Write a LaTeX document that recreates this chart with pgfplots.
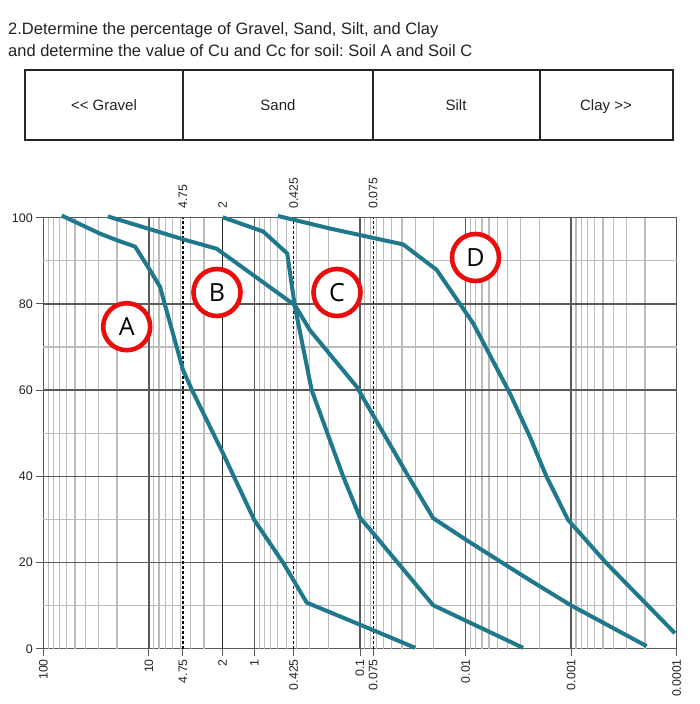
\documentclass[border=0pt]{standalone}
\usepackage{fontspec}
\setmainfont{Liberation Sans}
\newfontfamily\circfont{Open Sans}
\usepackage{pgfplots}
\pgfplotsset{compat=1.18}
\frenchspacing
\definecolor{curve}{RGB}{31,120,140}
\definecolor{gmaj}{RGB}{90,90,90}
\definecolor{gmin}{RGB}{188,188,188}
\definecolor{circred}{RGB}{235,12,12}
\definecolor{txt}{RGB}{34,34,34}
\begin{document}
\begin{tikzpicture}
\useasboundingbox (0pt,-704pt) rectangle (699pt,0pt);
\begin{axis}[
  at={(43.3pt,-648.7pt)}, anchor=south west,
  scale only axis, width=633.4pt, height=431pt,
  xmode=log, x dir=reverse, xmin=0.0001, xmax=100, ymin=0, ymax=100,
  clip=false,
  axis line style={gmaj, line width=1.3pt},
  xtick={100,10,4.75,2,1,0.425,0.1,0.075,0.01,0.001,0.0001},
  xticklabels={100,10,4.75\hspace{4pt},2,1,0.425,0.1,0.075\hspace{4pt},0.01,0.001,0.0001},
  minor xtick={}, minor ytick={},
  xtick pos=bottom, ytick pos=left,
  xticklabel style={rotate=90, anchor=east, font=\fontsize{12.3}{14}\selectfont, text=txt},
  ytick={0,20,40,60,80,100},
  yticklabel style={font=\fontsize{12.5}{14}\selectfont, text=txt},
  tick align=outside, major tick length=7pt, tick style={gmaj, line width=1pt},
  /pgf/number format/assume math mode=true,
]
% minor vertical grid
\pgfplotsinvokeforeach{90,80,70,60,50,40,30,20,9,8,7,6,5,4,3,0.9,0.8,0.7,0.6,0.5,0.4,0.3,0.2,0.09,0.08,0.07,0.06,0.05,0.04,0.03,0.02,0.009,0.008,0.007,0.006,0.005,0.004,0.003,0.002,0.0009,0.0008,0.0007,0.0006,0.0005,0.0004,0.0003,0.0002}{
  \draw[gmin, line width=1.2pt] (axis cs:#1,0) -- (axis cs:#1,100);}
% minor horizontal grid
\pgfplotsinvokeforeach{10,30,50,70,90}{
  \draw[gmin, line width=1.2pt] (axis cs:100,#1) -- (axis cs:0.0001,#1);}
% major grid
\pgfplotsinvokeforeach{20,40,60,80,100}{
  \draw[gmaj, line width=1.3pt] (axis cs:100,#1) -- (axis cs:0.0001,#1);}
\pgfplotsinvokeforeach{10,1,0.1,0.01,0.001}{
  \draw[gmaj, line width=1.3pt] (axis cs:#1,0) -- (axis cs:#1,100);}
\draw[black!85, line width=1.6pt] (axis cs:2,0) -- (axis cs:2,100);
% dashed sieve lines
\pgfplotsinvokeforeach{4.75,0.425,0.075}{
  \draw[black, line width=1.3pt, dash pattern=on 3pt off 2pt] (axis cs:#1,0) -- (axis cs:#1,100);}
% top labels
\pgfplotsinvokeforeach{4.75,2,0.425,0.075}{
  \node[rotate=90, anchor=west, font=\fontsize{12.3}{14}\selectfont, text=txt, inner sep=0pt] at ([yshift=9pt]axis cs:#1,100) {#1};}
% curves
\addplot[curve, line width=4pt, line join=round] coordinates {
(67,100.5) (29,96.3) (20.2,94.8) (13.5,93.3) (9.8,87.9) (7.85,84) (4.75,64.7) (3.9,60)
(2.0,45.5) (1.0,29.8) (0.53,19.8) (0.32,10.7) (0.075,4.3) (0.030,0.2)};
\addplot[curve, line width=4pt, line join=round] coordinates {
(24.5,100.3) (7.3,96.4) (4.75,95) (2.28,92.8) (0.414,79.7) (0.298,73.9) (0.1076,60.8)
(0.0362,40.7) (0.0203,30.3) (0.0098,25.2) (0.0044,19.8) (0.00246,15.9) (0.00101,10.1) (0.000193,0.6)};
\addplot[curve, line width=4pt, line join=round] coordinates {
(2.0,100.1) (0.826,96.8) (0.489,91.7) (0.414,79.4) (0.287,60) (0.144,39.9) (0.1,30.4)
(0.075,26.8) (0.0203,10.1) (0.00285,0.2)};
\addplot[curve, line width=4pt, line join=round] coordinates {
(0.6,100.4) (0.193,97.5) (0.039,93.8) (0.0188,87.9) (0.00847,75.5) (0.00381,59.3)
(0.00246,49.2) (0.00171,39.9) (0.00107,29.9) (0.000462,19.8) (0.000104,3.6)};
\end{axis}
\begin{scope}[x=1pt,y=-1pt]
% title
\node[anchor=base west, inner sep=0pt, font=\fontsize{16.5}{19}\selectfont, text=txt] at (8,34) {2.Determine the percentage of Gravel, Sand, Silt, and Clay};
\node[anchor=base west, inner sep=0pt, font=\fontsize{16.5}{19}\selectfont, text=txt] at (8,56) {and determine the value of Cu and Cc for soil: Soil A and Soil C};
% classification box
\draw[black!85, line width=1.6pt] (25,70) rectangle (673,140);
\draw[black!85, line width=1.4pt] (183,70) -- (183,140) (373,70) -- (373,140) (540,70) -- (540,140);
\node[anchor=base, inner sep=0pt, font=\fontsize{15}{17}\selectfont, text=txt] at (104,110) {<\kern0pt< Gravel};
\node[anchor=base, inner sep=0pt, font=\fontsize{15}{17}\selectfont, text=txt] at (278,110) {Sand};
\node[anchor=base, inner sep=0pt, font=\fontsize{15}{17}\selectfont, text=txt] at (456,110) {Silt};
\node[anchor=base, inner sep=0pt, font=\fontsize{15}{17}\selectfont, text=txt] at (606,110) {Clay >\kern0pt>};
% red circles
\foreach \cx/\cy/\lab in {126.7/326.7/A, 217/292.5/B, 337/292.5/C, 475.5/257.5/D}{
  \draw[circred, fill=white, line width=4.6pt] (\cx,\cy) circle (23.5);
  \node[font=\circfont\fontsize{25}{28}\selectfont, text=black] at (\cx,\cy) {\lab};
}
\end{scope}
\end{tikzpicture}
\end{document}
